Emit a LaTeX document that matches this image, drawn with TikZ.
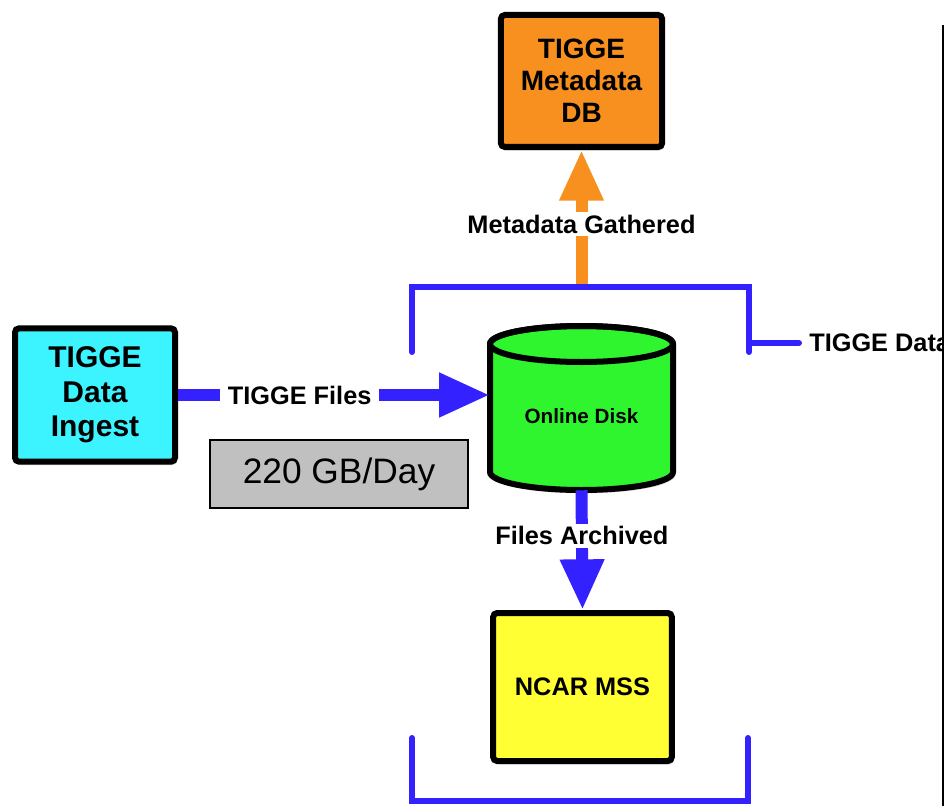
\documentclass[tikz,border=0pt]{standalone}
\usepackage{fontspec}
\setmainfont{Liberation Sans}
\usetikzlibrary{arrows.meta,shadows}
\definecolor{cOrange}{HTML}{F7901E}
\definecolor{cCyan}{HTML}{3CF4FF}
\definecolor{cGreen}{HTML}{2EF52E}
\definecolor{cYellow}{HTML}{FFFF33}
\definecolor{cBlue}{HTML}{3322FF}
\definecolor{cGray}{HTML}{C0C0C0}
\begin{document}
\begin{tikzpicture}[x=0.75pt,y=-0.75pt,
  shad/.style={drop shadow={opacity=0.3,shadow xshift=1.5pt,shadow yshift=-2.5pt}},
  box/.style={draw=black,line width=4.5pt,rounded corners=3pt,align=center,inner sep=0pt,shad},
  lbl/.style={text=black,font=\bfseries\fontsize{19}{22}\selectfont,fill=white,inner xsep=6pt,inner ysep=2pt},
  flow/.style={line width=9pt,-{Triangle[width=31pt,length=38pt]}},
  bracket/.style={draw=cBlue,line width=4.5pt,line cap=round,line join=miter}]
\useasboundingbox (0,0) rectangle (948,806);

% cylinder (Online Disk)
\path[fill=cGreen,draw=black,line width=4.5pt,shad]
  (490,344) -- (490,472) arc[start angle=180,end angle=0,x radius=91.5,y radius=18]
  -- (673,344) arc[start angle=0,end angle=-180,x radius=91.5,y radius=18] -- cycle;
\draw[line width=4.5pt] (581.5,344) ellipse[x radius=91.5,y radius=18];
\node[inner sep=0pt,minimum width=137pt,minimum height=111pt,
      font=\bfseries\fontsize{15.5}{18}\selectfont] (disk) at (581.5,416) {Online Disk};

% boxes
\node[box,fill=cOrange,minimum width=121pt,minimum height=99pt,
      font=\bfseries\fontsize{21}{24}\selectfont] (meta) at (581.5,81) {TIGGE\\Metadata\\DB};
\node[box,fill=cCyan,minimum width=120pt,minimum height=100pt,
      font=\bfseries\fontsize{22.5}{26}\selectfont] (ingest) at (95,395) {TIGGE\\Data\\Ingest};
\node[box,fill=cYellow,minimum width=134pt,minimum height=111pt,
      font=\bfseries\fontsize{19}{22}\selectfont] (mss) at (582.5,687) {NCAR MSS};
\node[draw=black,line width=1.1pt,fill=cGray,minimum width=193.5pt,minimum height=51pt,
      inner sep=0pt,font=\fontsize{26.5}{30}\selectfont] (rate) at (339,474) {220 GB/Day};

% top bracket (TIGGE Data)
\coordinate (tl) at (412,352);
\coordinate (tr) at (749,352);
\coordinate (tm) at (581.5,287);
\draw[cOrange,flow] (tm) -- node[lbl,pos=0.46] (mlab) {Metadata Gathered} (meta.south);
\draw[bracket] (tl) -- (412,287) -- (749,287) -- (tr);
\begin{scope}
  \clip (0,0) rectangle (943,806);
  \node[font=\bfseries\fontsize{19}{22}\selectfont,anchor=west,inner xsep=7.5pt,inner ysep=0pt] (tdl) at (799,343) {TIGGE Data};
  \coordinate (tstub) at (749,343);
  \draw[bracket] (tstub) -- (tdl.west);
\end{scope}

% flows
\draw[cBlue,flow] (ingest.east) -- node[lbl,pos=0.39] (flab) {TIGGE Files} (ingest.east -| disk.west);
\draw[cBlue,flow] (disk.south) -- node[lbl,pos=0.38] (alab) {Files Archived} (mss.north);

% bottom bracket
\coordinate (bl) at (412,738);
\coordinate (br) at (748,738);
\draw[bracket] (bl) -- (412,801) -- (748,801) -- (br);

% right border line
\coordinate (vt) at (943,25);
\coordinate (vb) at (943,806);
\draw[line width=1.5pt] (vt) -- (vb);
\end{tikzpicture}
\end{document}
